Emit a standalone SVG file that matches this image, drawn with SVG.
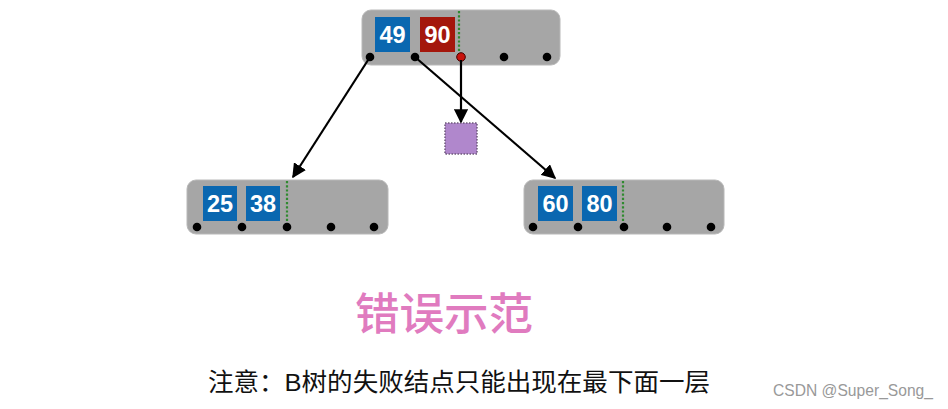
<svg xmlns="http://www.w3.org/2000/svg" width="948" height="409" viewBox="0 0 948 409">
<style>
.node{fill:#a6a6a6;stroke:#b8b8b8;stroke-width:1}
.kb{fill:#0a67b0}
.kr{fill:#a4170c}
.kt{font-family:"Liberation Sans",Arial,sans-serif;font-weight:bold;font-size:23.5px;fill:#fff;text-anchor:middle}
.dot{fill:#000}
.sep{stroke:#2f8a2f;stroke-width:2.2;stroke-dasharray:2.2,2}
.edge{stroke:#000;stroke-width:2.2;fill:none;marker-end:url(#ah)}
</style>
<defs>
<marker id="ah" viewBox="0 0 10 10" refX="9" refY="5" markerWidth="6.5" markerHeight="6.5" orient="auto" markerUnits="strokeWidth">
<path d="M0,0 L10,5 L0,10 z" fill="#000"/>
</marker>
</defs>
<rect width="948" height="409" fill="#fff"/>
<g id="root">
<rect class="node" x="362" y="10" width="198" height="55" rx="9"/>
<rect class="kb" x="375" y="17" width="35" height="35"/>
<text class="kt" x="392.5" y="43">49</text>
<rect class="kr" x="420" y="17" width="35" height="35"/>
<text class="kt" x="437.5" y="43">90</text>
<line class="sep" x1="459" y1="11" x2="459" y2="55"/>
<circle class="dot" cx="370" cy="57" r="4.3"/>
<circle class="dot" cx="415" cy="57" r="4.3"/>
<circle cx="461" cy="57" r="4.3" fill="#c8120c" stroke="#400" stroke-width="1"/>
<circle class="dot" cx="504" cy="57" r="4.3"/>
<circle class="dot" cx="547" cy="57" r="4.3"/>
</g>
<g id="left">
<rect class="node" x="187" y="180" width="201" height="54" rx="9"/>
<rect class="kb" x="203" y="186" width="34" height="35"/>
<text class="kt" x="220" y="212">25</text>
<rect class="kb" x="246" y="186" width="34" height="35"/>
<text class="kt" x="263" y="212">38</text>
<line class="sep" x1="287" y1="181" x2="287" y2="224"/>
<circle class="dot" cx="197" cy="227" r="4.3"/>
<circle class="dot" cx="242" cy="227" r="4.3"/>
<circle class="dot" cx="287" cy="227" r="4.3"/>
<circle class="dot" cx="331" cy="227" r="4.3"/>
<circle class="dot" cx="374" cy="227" r="4.3"/>
</g>
<g id="right">
<rect class="node" x="524" y="180" width="200" height="54" rx="9"/>
<rect class="kb" x="538" y="186" width="35" height="35"/>
<text class="kt" x="555.5" y="212">60</text>
<rect class="kb" x="582" y="186" width="35" height="35"/>
<text class="kt" x="599.5" y="212">80</text>
<line class="sep" x1="623" y1="181" x2="623" y2="224"/>
<circle class="dot" cx="533" cy="227" r="4.3"/>
<circle class="dot" cx="578" cy="227" r="4.3"/>
<circle class="dot" cx="624" cy="227" r="4.3"/>
<circle class="dot" cx="667" cy="227" r="4.3"/>
<circle class="dot" cx="711" cy="227" r="4.3"/>
</g>
<g id="fail">
<rect x="445" y="123" width="32" height="31" fill="#b087cc" stroke="#6e5a7a" stroke-width="1.5" stroke-dasharray="1.5,1.5"/>
</g>
<g id="connectors">
<line class="edge" x1="370" y1="57" x2="293" y2="177"/>
<line class="edge" x1="415" y1="57" x2="555" y2="178"/>
<line class="edge" x1="461" y1="60" x2="461" y2="122"/>
</g>
<g id="labels">
<text x="444" y="330" font-family="'Noto Sans CJK SC',sans-serif" font-size="44" font-weight="500" fill="#e07bbf" text-anchor="middle" textLength="178" lengthAdjust="spacingAndGlyphs">错误示范</text>
<text x="208" y="391" font-family="'Liberation Sans','Noto Sans CJK SC',sans-serif" font-size="24.5" fill="#111" textLength="502" lengthAdjust="spacingAndGlyphs">注意：B树的失败结点只能出现在最下面一层</text>
<text x="773" y="396" font-family="'Liberation Sans',Arial,sans-serif" font-size="17" fill="#999" textLength="160" lengthAdjust="spacingAndGlyphs">CSDN @Super_Song_</text>
</g>
</svg>
